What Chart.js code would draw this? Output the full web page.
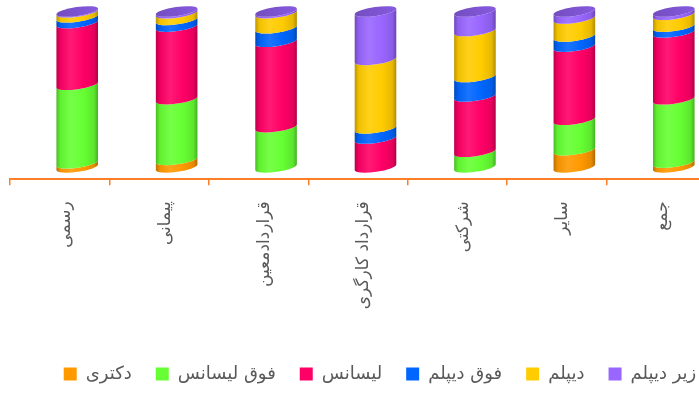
<!DOCTYPE html>
<html lang="fa">
<head>
<meta charset="utf-8">
<title>مدرک تحصیلی به تفکیک نوع استخدام</title>
<script src="https://cdn.jsdelivr.net/npm/chart.js@4.4.1/dist/chart.umd.min.js"></script>
<style>
  html, body { margin: 0; padding: 0; background: #fff; }
  body { width: 699px; height: 396px; overflow: hidden; }
  #wrap { position: relative; width: 760px; height: 393px; }
</style>
</head>
<body>
<div id="wrap"><canvas id="chart"></canvas></div>
<script>
// نوع استخدام
const categories = ['رسمی', 'پیمانی', 'قراردادمعین', 'قرارداد کارگری', 'شرکتی', 'سایر', 'جمع'];

// سهم هر مدرک (درصد) - از پایین به بالا
const doctorate   = [2.6, 4.8, 0, 0, 0, 11, 3];
const masters     = [50.4, 39, 25.8, 0, 10, 19.5, 40.7];
const bachelors   = [39.6, 46.5, 54.8, 18.5, 35.5, 47, 42.9];
const associate   = [3.7, 4.3, 8.7, 6.5, 12.5, 6.5, 3.7];
const diploma     = [3.2, 4.3, 9.7, 44, 29.5, 11.5, 7.6];
const belowDiploma = [0.5, 1.1, 1, 31, 12.5, 4.5, 2.1];

const seriesNames  = ['دکتری', 'فوق لیسانس', 'لیسانس', 'فوق دیپلم', 'دیپلم', 'زیر دیپلم'];
const seriesValues = [doctorate, masters, bachelors, associate, diploma, belowDiploma];
const seriesColors = ['#ff9900', '#66ff33', '#ff0066', '#0066ff', '#ffcc00', '#9966ff'];

const FONT = 'DejaVu Sans';
const AXIS_COLOR = '#ff7f27';

function shade(hex, amt) {
  const n = parseInt(hex.slice(1), 16);
  let r = (n >> 16) & 255, g = (n >> 8) & 255, b = n & 255;
  const f = c => amt < 0 ? Math.round(c * (1 + amt)) : Math.round(c + (255 - c) * amt);
  return `rgb(${f(r)}, ${f(g)}, ${f(b)})`;
}

// draws each stacked bar as a 3D cylinder instead of a flat rectangle
const cylinders = {
  id: 'cylinders',
  beforeDatasetsDraw(chart) {
    const ctx = chart.ctx;
    const dx = 17.5, dy = -12, tilt = -0.14, ry = 4.5;
    ctx.save();
    chart.data.labels.forEach((_, i) => {
      let top = null;
      chart.data.datasets.forEach((ds, d) => {
        if (!ds.data[i]) return;
        const el = chart.getDatasetMeta(d).data[i];
        const cx = el.x + dx, rx = el.width / 2;
        const yb = el.base + dy, yt = el.y + dy;
        const c = ds.backgroundColor;
        const g = ctx.createLinearGradient(cx - rx, 0, cx + rx, 0);
        g.addColorStop(0, shade(c, -0.28));
        g.addColorStop(0.1, shade(c, -0.06));
        g.addColorStop(0.35, shade(c, 0.1));
        g.addColorStop(0.65, c);
        g.addColorStop(0.9, shade(c, -0.1));
        g.addColorStop(1, shade(c, -0.32));
        ctx.beginPath();
        ctx.ellipse(cx, yb, rx, ry, tilt, Math.PI, 0, true);
        ctx.ellipse(cx, yt, rx, ry, tilt, 0, Math.PI, false);
        ctx.closePath();
        ctx.fillStyle = g;
        ctx.fill();
        top = { cx, yt, rx, c };
      });
      if (top) {
        const g = ctx.createLinearGradient(top.cx - top.rx, 0, top.cx + top.rx, 0);
        g.addColorStop(0, shade(top.c, -0.25));
        g.addColorStop(1, shade(top.c, -0.12));
        ctx.beginPath();
        ctx.ellipse(top.cx, top.yt, top.rx, ry, tilt, 0, Math.PI * 2);
        ctx.fillStyle = g;
        ctx.fill();
      }
    });
    ctx.restore();
    return false;
  }
};

new Chart(document.getElementById('chart'), {
  type: 'bar',
  data: {
    labels: categories,
    datasets: seriesNames.map((name, k) => ({
      label: name,
      data: seriesValues[k],
      backgroundColor: seriesColors[k],
      borderWidth: 0,
      categoryPercentage: 0.65,
      barPercentage: 0.65
    }))
  },
  options: {
    responsive: true,
    maintainAspectRatio: false,
    animation: false,
    layout: { padding: { top: 23.5, bottom: 0, left: 0, right: 0 } },
    scales: {
      x: {
        stacked: true,
        grid: { drawOnChartArea: false, tickLength: 6, color: AXIS_COLOR, lineWidth: 1.5 },
        border: { color: AXIS_COLOR, width: 2 },
        ticks: {
          autoSkip: false, minRotation: 90, maxRotation: 90,
          padding: 16, labelOffset: 6,
          color: '#595959', font: { family: FONT, size: 17 }
        },
        afterFit(s) { s.height = 161.7; }
      },
      y: {
        stacked: true, min: 0, max: 100,
        ticks: { display: false }, grid: { display: false }, border: { display: false },
        afterFit(s) { s.width = 10; }
      },
      y2: {
        position: 'right',
        ticks: { display: false }, grid: { display: false }, border: { display: false },
        afterFit(s) { s.width = 54; }
      }
    },
    plugins: {
      tooltip: { enabled: false },
      legend: {
        position: 'bottom',
        labels: {
          boxWidth: 13, boxHeight: 13, padding: 24,
          color: '#595959', font: { family: FONT, size: 18 }
        }
      }
    }
  },
  plugins: [cylinders]
});
</script>
</body>
</html>
